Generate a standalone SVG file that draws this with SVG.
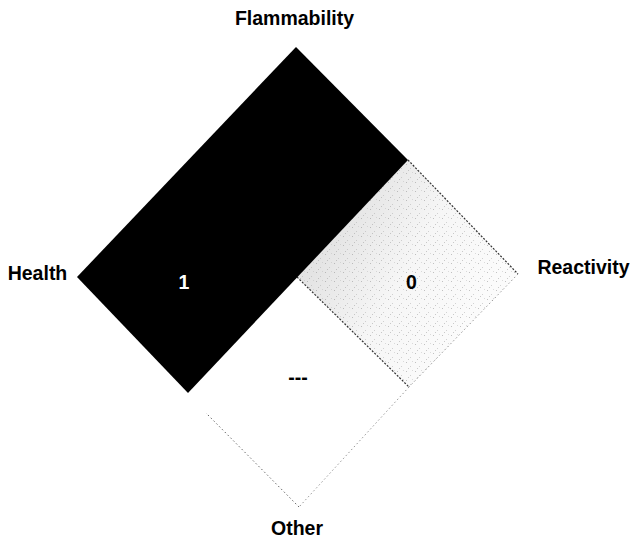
<svg xmlns="http://www.w3.org/2000/svg" width="631" height="540" viewBox="0 0 631 540">
  <style>
    .lbl { font-family: "Liberation Sans", Arial, sans-serif; font-weight: bold; font-size: 19.5px; fill: #000; text-anchor: middle; }
    .val { font-family: "Liberation Sans", Arial, sans-serif; font-weight: bold; font-size: 19.5px; text-anchor: middle; }
    .edge-dark { fill: none; stroke: #333; stroke-width: 1.2; stroke-dasharray: 2 1.5; }
    .edge-faint { fill: none; stroke: #999; stroke-width: 1; stroke-dasharray: 1.5 2.5; }
  </style>
  <defs>
    <linearGradient id="grayGrad" gradientUnits="userSpaceOnUse" x1="330" y1="240" x2="470" y2="320">
      <stop offset="0" stop-color="#e4e4e4"/>
      <stop offset="0.5" stop-color="#f6f6f6"/>
      <stop offset="1" stop-color="#fbfbfb"/>
    </linearGradient>
    <pattern id="speckle" width="9" height="9" patternUnits="userSpaceOnUse">
      <rect x="1" y="2" width="1" height="1" fill="#888"/>
      <rect x="5" y="6" width="1" height="1" fill="#aaa"/>
      <rect x="7" y="1" width="1" height="1" fill="#bbb"/>
      <rect x="3" y="8" width="1" height="1" fill="#999"/>
    </pattern>
  </defs>
  <rect width="631" height="540" fill="#fff"/>

  <g id="reactivity">
    <polygon points="408,160 518,274 409,387 297,277" fill="url(#grayGrad)"/>
    <polygon points="408,160 518,274 409,387 297,277" fill="url(#speckle)" opacity="0.5"/>
    <text class="val" x="411.5" y="289" fill="#000">0</text>
  </g>

  <g id="other">
    <polygon points="297,277 409,387 299,507 188,393" fill="#fff"/>
    <text class="val" x="298" y="384" fill="#000">---</text>
  </g>

  <g id="connectors">
    <line class="edge-dark" x1="408" y1="160" x2="518" y2="274"/>
    <line class="edge-faint" x1="518" y1="274" x2="409" y2="387"/>
    <line class="edge-dark" x1="297" y1="277" x2="409" y2="387"/>
    <line class="edge-faint" x1="409" y1="387" x2="299" y2="507"/>
    <line class="edge-faint" x1="299" y1="507" x2="206" y2="413" style="stroke:#666"/>
  </g>

  <g id="health-flammability">
    <polygon points="77,277 296,47 408,160 188,393" fill="#000"/>
    <text class="val" x="184" y="289" fill="#fff">1</text>
  </g>

  <g id="labels">
    <text class="lbl" x="294.5" y="25">Flammability</text>
    <text class="lbl" x="37.5" y="280">Health</text>
    <text class="lbl" x="583.5" y="274">Reactivity</text>
    <text class="lbl" x="297" y="535">Other</text>
  </g>
</svg>
